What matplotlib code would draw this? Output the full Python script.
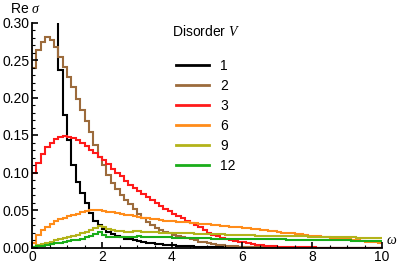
import numpy as np
import matplotlib
matplotlib.use("Agg")
import matplotlib.pyplot as plt
from matplotlib.ticker import MultipleLocator
from matplotlib.lines import Line2D

plt.rcParams['font.family'] = ['Liberation Sans', 'DejaVu Sans']
plt.rcParams['mathtext.fontset'] = 'custom'
plt.rcParams['mathtext.it'] = 'Liberation Serif:italic'

omega_min, omega_max, n_bins = 0.0, 10.0, 80
labels = ['1', '2', '3', '6', '9', '12']
colors = ['#000000', '#9c6b3c', '#ff1a1a', '#ff8c1a', '#b3b31a', '#1aad1a']

v1 = [0.62, 0.78, 0.72, 0.58, 0.45, 0.34, 0.237, 0.177, 0.143, 0.110,
      0.088, 0.073, 0.059, 0.046, 0.036, 0.030, 0.025, 0.021, 0.018, 0.016,
      0.014, 0.012, 0.011, 0.010, 0.0085, 0.0075, 0.0066, 0.0058, 0.0050, 0.0044,
      0.0038, 0.0032, 0.0027, 0.0023, 0.0020, 0.0017, 0.0014, 0.0012, 0.0010, 0.0009,
      0.0008, 0.0007, 0.0006, 0.0005, 0.0004, 0.0003, 0.0003, 0.0002, 0.0002, 0.0001] + [0.0] * 30
v2 = [0.239, 0.263, 0.274, 0.280, 0.277, 0.268, 0.254, 0.241, 0.228, 0.214,
      0.198, 0.183, 0.168, 0.154, 0.137, 0.121, 0.110, 0.097, 0.086, 0.078,
      0.070, 0.064, 0.058, 0.052, 0.045, 0.039, 0.034, 0.030, 0.026, 0.023,
      0.021, 0.019, 0.017, 0.0155, 0.0142, 0.0125, 0.011, 0.0095, 0.008, 0.007,
      0.006, 0.005, 0.004, 0.0032, 0.0025, 0.002, 0.0015, 0.0011, 0.0008, 0.0006,
      0.0004, 0.0003, 0.0002, 0.0001] + [0.0] * 26
v3 = [0.100, 0.113, 0.125, 0.134, 0.140, 0.145, 0.148, 0.149, 0.148, 0.146,
      0.143, 0.139, 0.135, 0.130, 0.126, 0.121, 0.117, 0.111, 0.105, 0.100,
      0.095, 0.089, 0.084, 0.079, 0.075, 0.071, 0.067, 0.063, 0.059, 0.056,
      0.052, 0.049, 0.045, 0.042, 0.039, 0.036, 0.033, 0.030, 0.027, 0.023,
      0.019, 0.017, 0.015, 0.013, 0.0115, 0.010, 0.009, 0.008, 0.007, 0.006,
      0.005, 0.004, 0.003, 0.0025, 0.002, 0.0015, 0.001, 0.0008, 0.0006, 0.0005,
      0.0004, 0.0003, 0.0002, 0.0002, 0.0001] + [0.0] * 15
v6 = [0.006, 0.017, 0.023, 0.028, 0.032, 0.035, 0.038, 0.040, 0.042, 0.043,
      0.045, 0.047, 0.049, 0.050, 0.0505, 0.050, 0.049, 0.048, 0.047, 0.046,
      0.045, 0.044, 0.043, 0.042, 0.041, 0.040, 0.039, 0.038, 0.0375, 0.037,
      0.036, 0.0355, 0.035, 0.0345, 0.034, 0.0335, 0.033, 0.0325, 0.032, 0.0315,
      0.031, 0.0305, 0.030, 0.029, 0.0285, 0.028, 0.0275, 0.027, 0.0265, 0.026,
      0.025, 0.0245, 0.024, 0.023, 0.022, 0.0215, 0.021, 0.020, 0.0195, 0.019,
      0.018, 0.0175, 0.017, 0.016, 0.0155, 0.015, 0.0145, 0.014, 0.013, 0.0125,
      0.012, 0.0115, 0.011, 0.010, 0.0095, 0.009, 0.008, 0.0075, 0.007, 0.0065]
v9 = [0.001, 0.003, 0.005, 0.0065, 0.008, 0.0095, 0.011, 0.0125, 0.014, 0.0155,
      0.017, 0.019, 0.021, 0.023, 0.026, 0.029, 0.027, 0.025, 0.023, 0.022,
      0.0215, 0.021, 0.021, 0.0215, 0.0215, 0.021, 0.021, 0.0205, 0.0205, 0.020,
      0.020, 0.020, 0.0195, 0.0195, 0.019, 0.019, 0.019, 0.0185, 0.0185, 0.018,
      0.018, 0.018, 0.0178, 0.0175, 0.0173, 0.017, 0.0168, 0.0166, 0.0165, 0.0163,
      0.0162, 0.016, 0.016, 0.0158, 0.0157, 0.0156, 0.0155, 0.0154, 0.0153, 0.0152,
      0.0151, 0.015, 0.0148, 0.0146, 0.0145, 0.0143, 0.0142, 0.014, 0.0139, 0.0138,
      0.0137, 0.0136, 0.0135, 0.0134, 0.0132, 0.013, 0.0128, 0.0126, 0.0124, 0.0122]
v12 = [0.0005, 0.0015, 0.0025, 0.0035, 0.0045, 0.0055, 0.0065, 0.0075, 0.0085, 0.0095,
       0.0105, 0.012, 0.0135, 0.015, 0.018, 0.021, 0.017, 0.0145, 0.0135, 0.0135,
       0.014, 0.014, 0.0145, 0.0145, 0.0148, 0.0145, 0.0145, 0.014, 0.014, 0.014,
       0.0138, 0.0135, 0.0133, 0.013, 0.013, 0.0128, 0.0127, 0.0125, 0.0124, 0.0122,
       0.0121, 0.012, 0.012, 0.0119, 0.0118, 0.0117, 0.0116, 0.0115, 0.0115, 0.0114,
       0.0113, 0.0112, 0.0111, 0.011, 0.011, 0.0109, 0.0108, 0.0107, 0.0106, 0.0105,
       0.0104, 0.0103, 0.0102, 0.0101, 0.01, 0.0099, 0.0098, 0.0097, 0.0096, 0.0096,
       0.0095, 0.0095, 0.0094, 0.0093, 0.0093, 0.0092, 0.0092, 0.0091, 0.0091, 0.009]
series = [v1, v2, v3, v6, v9, v12]

x_ticks = [0, 2, 4, 6, 8, 10]
y_ticks = [0.00, 0.05, 0.10, 0.15, 0.20, 0.25, 0.30]

edges = np.linspace(omega_min, omega_max, n_bins + 1)

fig = plt.figure(figsize=(3.99, 2.66), dpi=100)
ax = fig.add_axes([32 / 399, 1 - 247.5 / 266, 350 / 399, 225 / 266])

for vals, c, lab in zip(series, colors, labels):
    ax.stairs(vals, edges, baseline=None, color=c, linewidth=1.5, label=lab)

ax.set_xlim(0, 10)
ax.set_ylim(0, 0.30)
ax.set_xticks(x_ticks)
ax.set_yticks(y_ticks)
ax.set_yticklabels([f"{t:.2f}" for t in y_ticks])
ax.xaxis.set_minor_locator(MultipleLocator(0.5))
ax.yaxis.set_minor_locator(MultipleLocator(0.01))
for s in ['top', 'right']:
    ax.spines[s].set_visible(False)
for s in ['left', 'bottom']:
    ax.spines[s].set_linewidth(1.3)
ax.tick_params(which='both', direction='in', labelsize=10, pad=2)
ax.tick_params(which='major', length=4, width=1.2)
ax.tick_params(which='minor', length=2.5, width=0.8)

fig.text(10 / 399, 1 - 9 / 266, r"Re $\sigma$", fontsize=10, va='center', ha='left')
fig.text(386 / 399, 1 - 240 / 266, r"$\omega$", fontsize=10, va='center', ha='left')

proxies = [Line2D([], [], color=c, linewidth=2.0) for c in colors]
leg = ax.legend(proxies, labels, frameon=False, fontsize=10,
                handlelength=2.4, handletextpad=0.8, borderpad=0, borderaxespad=0,
                labelspacing=0.43, loc='upper left',
                bbox_to_anchor=(176 / 399, 1 - 59 / 266), bbox_transform=fig.transFigure)
fig.text(206 / 399, 1 - 32 / 266, r"Disorder $V$", fontsize=10, ha='center', va='center')

fig.savefig("out.png", dpi=100)
